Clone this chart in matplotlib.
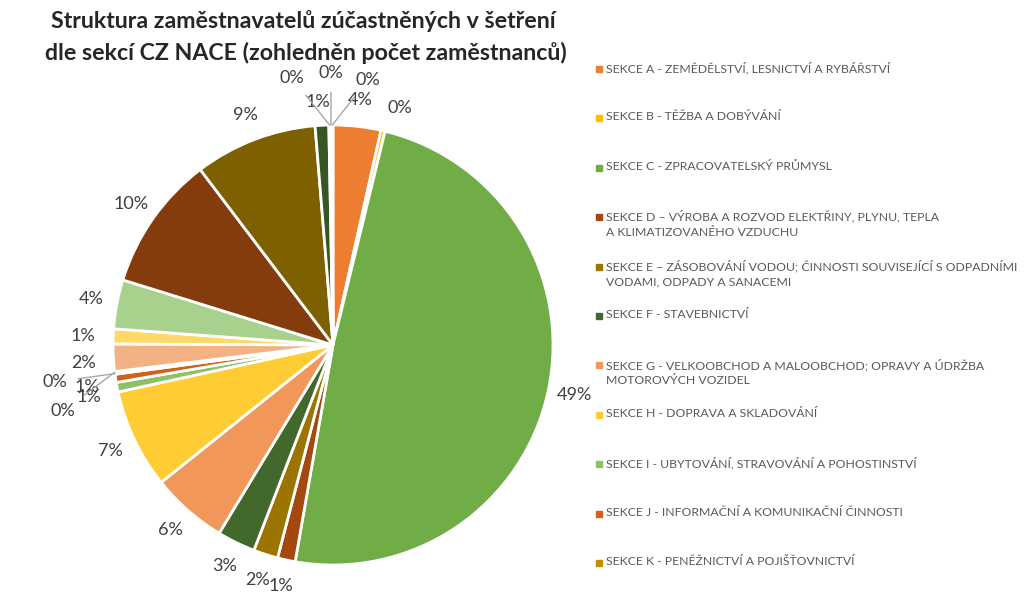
import matplotlib
matplotlib.use('Agg')

import numpy as np
import matplotlib.pyplot as plt

plt.rcParams['font.family'] = ['Lato', 'DejaVu Sans']

sections = ['A', 'B', 'C', 'D', 'E', 'F', 'G', 'H', 'I', 'J', 'K',
            'L', 'M', 'N', 'O', 'P', 'Q', 'R', 'S', 'T', 'U']
shares = [3.5, 0.3, 48.9, 1.3, 1.8, 2.8, 5.6, 7.3, 0.7, 0.6, 0.1,
          0.1, 2.0, 1.1, 3.6, 9.9, 9.0, 1.0, 0.1, 0.1, 0.1]
colors = ['#ED7D31', '#FFC000', '#70AD47', '#A5480E', '#9C7500', '#43682B',
          '#F1975A', '#FFCD33', '#8CC168', '#D0601A', '#BF9000', '#5A8A3A',
          '#F4B183', '#FFD966', '#A9D18E', '#843C0C', '#7F6000', '#375623',
          '#F8CBAD', '#FFE699', '#C5E0B4']

legend_labels = [
    'SEKCE A - ZEMĚDĚLSTVÍ, LESNICTVÍ A RYBÁŘSTVÍ',
    'SEKCE B - TĚŽBA A DOBÝVÁNÍ',
    'SEKCE C - ZPRACOVATELSKÝ PRŮMYSL',
    'SEKCE D – VÝROBA A ROZVOD ELEKTŘINY, PLYNU, TEPLA\nA KLIMATIZOVANÉHO VZDUCHU',
    'SEKCE E – ZÁSOBOVÁNÍ VODOU; ČINNOSTI SOUVISEJÍCÍ S ODPADNÍMI\nVODAMI, ODPADY A SANACEMI',
    'SEKCE F - STAVEBNICTVÍ',
    'SEKCE G - VELKOOBCHOD A MALOOBCHOD; OPRAVY A ÚDRŽBA\nMOTOROVÝCH VOZIDEL',
    'SEKCE H - DOPRAVA A SKLADOVÁNÍ',
    'SEKCE I - UBYTOVÁNÍ, STRAVOVÁNÍ A POHOSTINSTVÍ',
    'SEKCE J - INFORMAČNÍ A KOMUNIKAČNÍ ČINNOSTI',
    'SEKCE K - PENĚŽNICTVÍ A POJIŠŤOVNICTVÍ',
]

# label positions moved by hand (pie units), others sit on the default ring
moved = {'B': (0.305, 1.077), 'R': (-0.068, 1.105), 'I': (-1.109, -0.236),
         'J': (-1.118, -0.191), 'M': (-1.136, -0.082), 'N': (-1.136, 0.041)}
leader = {'K': (-1.264, -0.168), 'L': (-1.227, -0.300),
          'S': (-0.186, 1.214), 'T': (-0.009, 1.236), 'U': (0.159, 1.205)}

W, H = 1024, 608
fig = plt.figure(figsize=(W / 100, H / 100), dpi=100)
cx, cy, r = 333, 345, 220
ax = fig.add_axes([(cx - r) / W, (H - cy - r) / H, 2 * r / W, 2 * r / H])

wedges, _ = ax.pie(shares, colors=colors, startangle=90, counterclock=False,
                   radius=1, wedgeprops=dict(edgecolor='white', linewidth=2))
ax.set_xlim(-1, 1)
ax.set_ylim(-1, 1)
ax.axis('off')

total = sum(shares)
txt_color = '#404040'
for sec, w, v in zip(sections, wedges, shares):
    pct = '%.0f%%' % (v / total * 100)
    mid = np.deg2rad((w.theta1 + w.theta2) / 2)
    if sec in leader:
        tx, ty = leader[sec]
        ax.annotate(pct, xy=(np.cos(mid), np.sin(mid)), xytext=(tx, ty),
                    ha='center', va='center', fontsize=13, color=txt_color,
                    annotation_clip=False,
                    arrowprops=dict(arrowstyle='-', color='#a6a6a6', lw=1,
                                    shrinkA=6, shrinkB=0))
        continue
    if sec in moved:
        tx, ty = moved[sec]
    else:
        tx, ty = 1.12 * np.cos(mid), 1.12 * np.sin(mid)
    ax.text(tx, ty, pct, ha='center', va='center', fontsize=13, color=txt_color,
            clip_on=False)

fig.text(303 / W, 1 - 21 / H, 'Struktura zaměstnavatelů zúčastněných v šetření',
         ha='center', va='center', fontsize=16.7, fontweight='bold', color='#262626')
fig.text(306 / W, 1 - 53 / H, 'dle sekcí CZ NACE (zohledněn počet zaměstnanců)',
         ha='center', va='center', fontsize=16.7, fontweight='bold', color='#262626')

# legend (Excel cut it after section K)
for i, lab in enumerate(legend_labels):
    y = 69 + i * 49.4
    fig.patches.append(plt.Rectangle(((596) / W, 1 - (y + 3) / H), 6 / W, 6 / H,
                                     transform=fig.transFigure, color=colors[i]))
    fig.text(606 / W, 1 - (y - 7) / H, lab, ha='left', va='top', fontsize=8.8,
             color='#595959', linespacing=1.5)

fig.savefig('out.png', dpi=100, facecolor='white')
